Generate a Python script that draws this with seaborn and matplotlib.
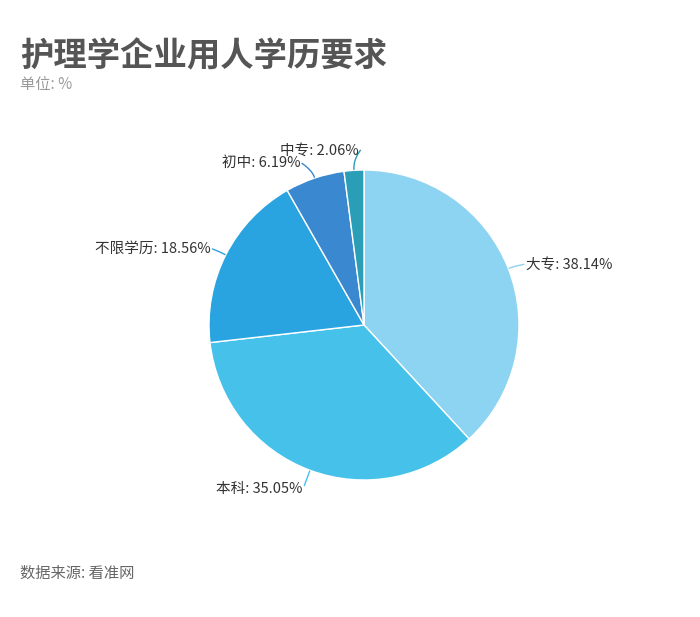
import numpy as np
import seaborn as sns
import matplotlib.pyplot as plt

# data
categories = ['大专', '本科', '不限学历', '初中', '中专']
shares = [38.14, 35.05, 18.56, 6.19, 2.06]
colors = ['#8DD3F2', '#46C2EA', '#29A4E0', '#3A88D0', '#2A9EB6']

# leader line styling per slice: radial length and sideways bend
lead_len = [0.07, 0.10, 0.08, 0.095, 0.125]
lead_bend = [0.03, 0.0, -0.01, -0.05, 0.05]

sns.set_theme(style='white')
plt.rcParams['font.family'] = ['Noto Sans CJK SC', 'DejaVu Sans']

fig = plt.figure(figsize=(7, 6.17), dpi=100)
ax = fig.add_axes([164 / 700, 92 / 617, 400 / 700, 400 / 617])

wedges, _ = ax.pie(shares, colors=sns.color_palette(colors), startangle=90,
                   counterclock=False, radius=1.0,
                   wedgeprops=dict(edgecolor='white', linewidth=1))
half = 200 / 155
ax.set_xlim(-half, half)
ax.set_ylim(-half, half)
ax.set_aspect('equal')
ax.axis('off')

# labels with short curved leader lines
for w, name, val, col, ln, bd in zip(wedges, categories, shares, colors,
                                     lead_len, lead_bend):
    ang = np.deg2rad((w.theta1 + w.theta2) / 2)
    x0, y0 = np.cos(ang), np.sin(ang)
    left = x0 > 0.05
    t = np.linspace(0, 1, 12)
    r = 1.005 + ln * t
    lx = r * x0 + bd * t ** 2
    ly = r * y0
    ax.plot(lx, ly, color=col, lw=1, solid_capstyle='round')
    tx = lx[-1] + (0.015 if left else -0.012)
    ty = ly[-1] - (0.02 if y0 < -0.5 else 0.0)
    ax.text(tx, ty, f'{name}: {val:.2f}%', ha='left' if left else 'right',
            va='center', fontsize=10.5, color='#333333')

fig.text(20 / 700, 1 - 57 / 617, '护理学企业用人学历要求', fontsize=24,
         fontweight='bold', color='#555555', va='center', ha='left')
fig.text(20 / 700, 1 - 85 / 617, '单位: %', fontsize=11, color='#999999',
         va='center', ha='left')
fig.text(20 / 700, 1 - 573 / 617, '数据来源: 看准网', fontsize=11,
         color='#666666', va='center', ha='left')

fig.savefig('out.png', dpi=100, facecolor='white')
